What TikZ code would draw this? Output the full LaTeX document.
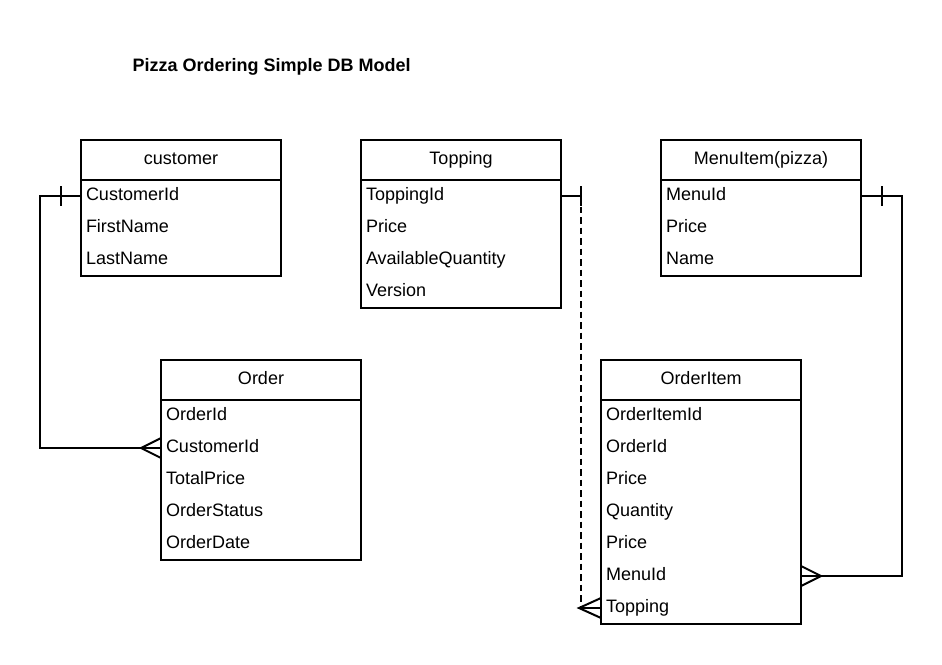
\documentclass[tikz,border=0pt]{standalone}
\usepackage{fontspec}
\setmainfont{Liberation Sans}
\usetikzlibrary{calc}
\begin{document}
\begin{tikzpicture}[x=1pt,y=-1pt,
  txt/.style={font=\fontsize{18}{21}\selectfont, text height=13pt, text depth=4pt},
  hdr/.style={txt, draw, line width=2pt, minimum width=200pt, minimum height=40pt, inner sep=0pt, outer sep=0pt, anchor=north west},
  fld/.style={txt, minimum height=32pt, text width=190pt, inner xsep=5pt, inner ysep=0pt, outer sep=0pt, align=left, anchor=north west},
  body/.style={draw, line width=2pt},
  rel/.style={line width=2pt},
  reldash/.style={line width=2pt, dash pattern=on 6.5pt off 4pt}
]
\fill[white] (0,0) rectangle (942,664);
\useasboundingbox (0,0) rectangle (942,664);

\node[font=\bfseries\fontsize{18}{21}\selectfont, anchor=west] (title) at (129,67) {Pizza Ordering Simple DB Model};

% customer
\node[hdr] (customer) at (81,140) {customer};
\node[fld] (cId) at (81,180) {CustomerId};
\node[fld] (cFirst) at (81,212) {FirstName};
\node[fld] (cLast) at (81,244) {LastName};
\draw[body] (customer.south west) rectangle (81+200,276);

% Topping
\node[hdr] (topping) at (361,140) {Topping};
\node[fld] (tId) at (361,180) {ToppingId};
\node[fld] (tPrice) at (361,212) {Price};
\node[fld] (tQty) at (361,244) {AvailableQuantity};
\node[fld] (tVer) at (361,276) {Version};
\draw[body] (topping.south west) rectangle (361+200,308);

% MenuItem
\node[hdr] (menu) at (661,140) {MenuItem(pizza)};
\node[fld] (mId) at (661,180) {MenuId};
\node[fld] (mPrice) at (661,212) {Price};
\node[fld] (mName) at (661,244) {Name};
\draw[body] (menu.south west) rectangle (661+200,276);

% Order
\node[hdr] (order) at (161,360) {Order};
\node[fld] (oId) at (161,400) {OrderId};
\node[fld] (oCust) at (161,432) {CustomerId};
\node[fld] (oTotal) at (161,464) {TotalPrice};
\node[fld] (oStatus) at (161,496) {OrderStatus};
\node[fld] (oDate) at (161,528) {OrderDate};
\draw[body] (order.south west) rectangle (161+200,560);

% OrderItem
\node[hdr] (oitem) at (601,360) {OrderItem};
\node[fld] (oiId) at (601,400) {OrderItemId};
\node[fld] (oiOrder) at (601,432) {OrderId};
\node[fld] (oiPrice) at (601,464) {Price};
\node[fld] (oiQty) at (601,496) {Quantity};
\node[fld] (oiPrice2) at (601,528) {Price};
\node[fld] (oiMenu) at (601,560) {MenuId};
\node[fld] (oiTop) at (601,592) {Topping};
\draw[body] (oitem.south west) rectangle (601+200,624);

% customer -> Order
\draw[rel] (cId.west) -- ++(-41,0) |- (oCust.west);
\draw[rel] ($(cId.west)+(-20,-10)$) -- ($(cId.west)+(-20,10)$);
\draw[rel] ($(oCust.west)+(0,-10)$) -- ($(oCust.west)+(-20,0)$) -- ($(oCust.west)+(0,10)$);

% Topping -> OrderItem
\coordinate (tc) at ($(tId.east)+(20,0)$);
\draw[rel] (tId.east) -- (tc);
\draw[reldash] (tc) -- (tc |- oiTop.west);
\draw[rel] (tc |- oiTop.west) -- (oiTop.west);
\draw[rel] ($(tc)+(0,-10)$) -- ($(tc)+(0,10)$);
\draw[rel] ($(oiTop.west)+(0,-10)$) -- ($(oiTop.west)+(-22,0)$) -- ($(oiTop.west)+(0,10)$);

% MenuItem -> OrderItem
\draw[rel] (mId.east) -- ++(41,0) |- (oiMenu.east);
\draw[rel] ($(mId.east)+(21,-10)$) -- ($(mId.east)+(21,10)$);
\draw[rel] ($(oiMenu.east)+(0,-10)$) -- ($(oiMenu.east)+(20,0)$) -- ($(oiMenu.east)+(0,10)$);
\end{tikzpicture}
\end{document}
